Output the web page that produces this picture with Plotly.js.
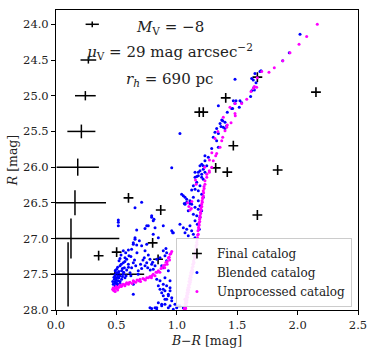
<!DOCTYPE html>
<html>
<head>
<meta charset="utf-8">
<script src="https://cdn.plot.ly/plotly-3.0.1.min.js"></script>
<style>html,body{margin:0;padding:0;background:#fff}#chart{width:374px;height:354px}</style>
</head>
<body>
<div id="chart"></div>
<script>
// Error-bar reference points (left side)
const errX = [0.30, 0.268, 0.243, 0.21, 0.18, 0.157, 0.124, 0.10];
const errY = [24.0, 24.5, 25.0, 25.5, 26.0, 26.5, 27.0, 27.5];
const errXsize = [0.055, 0.065, 0.086, 0.116, 0.175, 0.257, 0.40, 0.63];
const errYsize = [0.04, 0.05, 0.065, 0.096, 0.12, 0.175, 0.28, 0.45];

// Final catalog
const finalX = [0.60, 0.867, 0.353, 0.502, 0.80, 0.845, 0.488, 1.667, 2.152, 1.405, 1.186, 1.219, 1.468, 1.322, 1.418, 1.835, 1.667];
const finalY = [26.43, 26.60, 27.24, 27.19, 27.06, 27.29, 27.50, 24.74, 24.95, 25.03, 25.23, 25.23, 25.70, 26.01, 26.07, 26.04, 26.67];

// Blended catalog
const blendX = [2.020,1.931,1.877,1.697,1.689,1.647,1.620,1.482,1.633,1.656,1.639,1.642,1.620,1.611,1.523,1.468,1.490,1.537,1.482,1.344,1.517,1.454,1.462,1.418,1.372,1.380,1.399,1.358,1.413,1.366,1.385,1.330,1.399,1.316,1.344,1.026,1.302,1.330,1.344,1.289,1.233,1.261,1.233,1.206,1.192,1.219,1.248,0.958,1.219,1.192,1.151,1.178,1.233,1.206,1.178,1.165,1.151,1.206,1.219,1.165,1.137,1.192,1.151,1.178,1.123,1.040,1.206,1.054,1.137,1.219,1.068,1.082,1.109,1.178,0.709,1.082,1.062,1.109,1.068,1.123,1.192,1.151,0.654,1.178,1.095,1.206,1.137,1.165,0.792,1.192,0.792,0.811,0.516,1.151,0.805,0.516,1.026,1.170,0.751,0.888,1.109,0.764,0.516,1.054,0.820,0.737,1.082,0.668,1.186,1.123,0.958,0.966,1.068,0.971,1.137,0.805,1.095,1.151,0.654,0.847,0.654,0.690,0.640,0.751,0.640,0.668,0.709,0.910,0.626,0.599,0.557,0.737,0.888,0.577,0.916,0.538,0.764,0.604,0.902,0.571,0.731,0.861,0.585,0.778,0.834,0.522,0.916,0.557,0.640,0.751,0.599,0.792,0.530,0.737,0.820,0.875,0.566,0.626,0.759,0.888,0.709,0.502,0.805,0.585,0.543,0.681,0.930,0.516,0.613,0.488,0.557,0.530,0.502,0.571,0.902,0.483,0.543,0.834,0.516,0.861,0.944,0.488,0.530,0.474,0.640,0.502,0.888,0.847,0.916,0.944,0.861,0.888,0.902,0.944,0.875,0.640,0.930,0.888,0.930,0.958,0.916,0.902,0.847,0.958,0.875,0.902,0.985,1.013,0.944,1.026,1.076,0.875,0.820,0.930,0.999,1.054,0.834,0.778,0.792,0.971,0.834,
  0.49,0.50,0.51,0.52,0.50,0.53,0.49,0.55,0.56,0.51,0.54,0.58,0.60,0.62,0.48,0.50,0.52,0.55,0.57,0.53,0.47,0.49,0.51,0.66,0.68,0.70,0.65,0.72,0.78,0.80,0.62,0.67];
const blendY = [24.14,24.40,24.51,24.65,24.66,24.69,24.76,24.77,24.78,24.82,24.88,24.92,24.93,25.01,25.07,25.07,25.07,25.10,25.11,25.14,25.16,25.18,25.18,25.23,25.34,25.35,25.37,25.39,25.42,25.43,25.44,25.46,25.46,25.51,25.53,25.53,25.58,25.63,25.72,25.74,25.84,25.86,25.91,25.96,25.98,25.98,25.98,26.01,26.03,26.05,26.07,26.07,26.07,26.10,26.12,26.13,26.14,26.14,26.17,26.21,26.26,26.26,26.31,26.33,26.32,26.38,26.38,26.40,26.42,26.42,26.42,26.45,26.47,26.47,26.49,26.49,26.51,26.51,26.52,26.52,26.54,26.56,26.57,26.59,26.61,26.61,26.66,26.68,26.68,26.70,26.70,26.73,26.74,26.75,26.75,26.77,26.80,26.80,26.82,26.82,26.82,26.82,26.82,26.85,26.85,26.86,26.87,26.88,26.87,26.89,26.89,26.92,26.92,26.92,26.94,26.94,26.96,26.99,26.99,26.99,27.01,27.03,27.06,27.08,27.08,27.09,27.10,27.14,27.15,27.16,27.17,27.17,27.17,27.20,27.20,27.23,27.23,27.24,27.24,27.27,27.27,27.27,27.29,27.29,27.29,27.31,27.31,27.34,27.34,27.34,27.36,27.36,27.38,27.38,27.38,27.38,27.41,27.41,27.41,27.41,27.42,27.43,27.43,27.44,27.45,27.45,27.45,27.48,27.48,27.51,27.50,27.52,27.55,27.55,27.55,27.57,27.57,27.57,27.59,27.59,27.59,27.62,27.63,27.64,27.64,27.65,27.64,27.66,27.66,27.69,27.71,27.71,27.73,27.73,27.76,27.78,27.78,27.80,27.80,27.83,27.85,27.85,27.90,27.87,27.92,27.92,27.92,27.94,27.94,27.94,27.94,27.94,27.97,27.97,27.97,27.97,27.97,27.97,27.98,27.99,28.00,
  27.45,27.48,27.52,27.55,27.58,27.60,27.60,27.53,27.47,27.40,27.36,27.52,27.40,27.52,27.54,27.62,27.46,27.42,27.32,27.28,27.60,27.66,27.64,27.38,27.50,27.36,27.30,27.30,27.44,27.33,27.25,27.20];

// Unprocessed catalog
const rawX = [2.163,2.075,2.012,1.937,1.877,1.807,1.763,1.703,1.666,1.661,1.642,1.633,1.614,1.579,1.537,1.482,1.482,1.440,1.484,1.449,1.418,1.413,1.399,1.385,1.380,1.372,1.358,1.330,1.322,1.302,1.289,1.269,1.269,1.248,1.248,1.233,1.233,1.225,1.219,1.219,1.209,1.200,1.192,1.184,1.175,1.171,1.159,1.151,1.138,1.126,1.115,1.105,1.097,1.087,1.080,1.072,1.068,1.064,
  1.214,1.205,1.196,1.188,1.180,1.165,1.155,1.145,1.132,1.121,1.110,1.101,1.092,1.084,1.076,1.070,1.066,
  1.222,1.211,1.202,1.194,1.186,1.178,1.168,1.162,1.152,1.142,1.135,1.129,1.118,1.112,1.103,1.095,1.089,1.082,1.078,1.073,1.067,1.062,
  1.226,1.216,1.207,1.198,1.190,1.182,1.173,1.167,1.157,1.148,1.140,1.131,1.123,1.116,1.107,1.099,1.091,1.085,1.077,1.071,
  1.09,1.10,1.11,1.125,1.12,1.155,1.16,1.23,1.316,1.34,1.29,1.27,
  0.469,0.474,0.497,0.530,0.555,0.585,0.613,0.640,0.671,0.695,0.720,0.751,0.778,0.805,0.828,0.847,0.869,0.888,0.911,0.930,0.944,0.958,
  0.48,0.50,0.52,0.54,0.57,0.60,0.63,0.66,0.70,0.74,0.79,0.82,0.86,0.90,0.92,0.94,0.49,0.475,0.51,
  0.485,0.515,0.545,0.575,0.605,0.645,0.685,0.730,0.765,0.795,0.838,0.878,0.900,0.921,0.937,0.951];
const rawY = [24.00,24.17,24.28,24.40,24.51,24.61,24.67,24.66,24.75,24.88,24.87,24.90,24.94,25.05,25.11,25.11,25.25,25.16,25.28,25.38,25.41,25.44,25.49,25.30,25.58,25.63,25.72,25.81,25.84,25.91,26.00,26.05,26.07,26.10,26.14,26.19,26.24,26.27,26.33,26.40,26.47,26.57,26.68,26.78,26.89,26.99,27.10,27.21,27.31,27.41,27.48,27.56,27.65,27.72,27.80,27.87,27.94,28.00,
  26.44,26.52,26.63,26.73,26.84,27.05,27.16,27.26,27.36,27.45,27.52,27.60,27.69,27.76,27.84,27.91,27.97,
  26.36,26.49,26.60,26.70,26.81,26.94,27.02,27.13,27.24,27.33,27.39,27.47,27.54,27.61,27.68,27.75,27.82,27.89,27.93,27.98,27.85,27.99,
  26.30,26.42,26.55,26.65,26.76,26.86,26.95,27.08,27.19,27.28,27.35,27.44,27.50,27.58,27.64,27.72,27.78,27.86,27.90,27.96,
  26.50,26.55,26.60,26.48,26.58,26.18,26.24,26.00,25.60,25.50,25.80,25.90,
  27.71,27.69,27.67,27.65,27.64,27.62,27.61,27.59,27.58,27.57,27.56,27.55,27.53,27.50,27.47,27.45,27.42,27.38,27.33,27.27,27.22,27.18,
  27.73,27.70,27.68,27.67,27.66,27.64,27.63,27.61,27.60,27.58,27.55,27.52,27.47,27.41,27.36,27.30,27.74,27.72,27.72,
  27.70,27.68,27.66,27.64,27.62,27.60,27.59,27.57,27.55,27.52,27.47,27.41,27.37,27.32,27.26,27.21];

const FONT = 'DejaVu Serif';

const traces = [
  {
    x: errX, y: errY, type: 'scatter', mode: 'markers', showlegend: false, hoverinfo: 'skip',
    marker: {size: 1, color: 'rgba(0,0,0,0)'},
    error_x: {type: 'data', array: errXsize, visible: true, color: 'black', thickness: 1.5, width: 0},
    error_y: {type: 'data', array: errYsize, visible: true, color: 'black', thickness: 1.5, width: 0}
  },
  {
    x: finalX, y: finalY, type: 'scatter', mode: 'markers', name: 'Final catalog',
    marker: {symbol: 'cross-thin', size: 7, color: 'black', line: {color: 'black', width: 1.6}}
  },
  {
    x: blendX, y: blendY, type: 'scatter', mode: 'markers', name: 'Blended catalog',
    marker: {symbol: 'circle', size: 3, color: '#0000ff', line: {width: 0}}
  },
  {
    x: rawX, y: rawY, type: 'scatter', mode: 'markers', name: 'Unprocessed catalog',
    marker: {symbol: 'circle', size: 3, color: '#ff00ff', line: {width: 0}}
  }
];

const axisCommon = {
  showgrid: false, zeroline: false, showline: true, mirror: true,
  linecolor: 'black', linewidth: 1, ticks: 'outside', ticklen: 4, tickwidth: 1,
  tickcolor: 'black', tickfont: {family: FONT, size: 11.5, color: '#222'}
};

const layout = {
  width: 374, height: 354,
  margin: {l: 56, r: 16, t: 10, b: 44},
  paper_bgcolor: 'white', plot_bgcolor: 'white',
  font: {family: FONT, color: '#222'},
  xaxis: Object.assign({}, axisCommon, {
    range: [0, 2.5], tickvals: [0, 0.5, 1.0, 1.5, 2.0, 2.5], tickformat: '.1f',
    title: {text: '<i>B</i>\u2212<i>R</i> [mag]', font: {family: FONT, size: 12.5, color: '#222'}, standoff: 5}
  }),
  yaxis: Object.assign({}, axisCommon, {
    range: [28, 23.8], tickvals: [24, 24.5, 25, 25.5, 26, 26.5, 27, 27.5, 28], tickformat: '.1f',
    title: {text: '<i>R</i> [mag]', font: {family: FONT, size: 12.5, color: '#222'}, standoff: 2}
  }),
  legend: {
    x: 0.98, xanchor: 'right', y: 0.01, yanchor: 'bottom',
    bgcolor: 'rgba(255,255,255,0.9)', bordercolor: '#cccccc', borderwidth: 1,
    font: {family: FONT, size: 12, color: '#222'}
  },
  annotations: [
    {xref: 'paper', yref: 'paper', x: 0.377, y: 0.98, text: '<i>M</i><sub>V</sub> = \u22128', showarrow: false, font: {family: FONT, size: 15, color: '#222'}},
    {xref: 'paper', yref: 'paper', x: 0.377, y: 0.902, text: '<i>\u03bc</i><sub>V</sub> = 29 mag arcsec<sup>\u22122</sup>', showarrow: false, font: {family: FONT, size: 15, color: '#222'}},
    {xref: 'paper', yref: 'paper', x: 0.377, y: 0.807, text: '<i>r<sub>h</sub></i> = 690 pc', showarrow: false, font: {family: FONT, size: 15, color: '#222'}}
  ]
};

Plotly.newPlot('chart', traces, layout, {staticPlot: true, displayModeBar: false});
</script>
</body>
</html>
